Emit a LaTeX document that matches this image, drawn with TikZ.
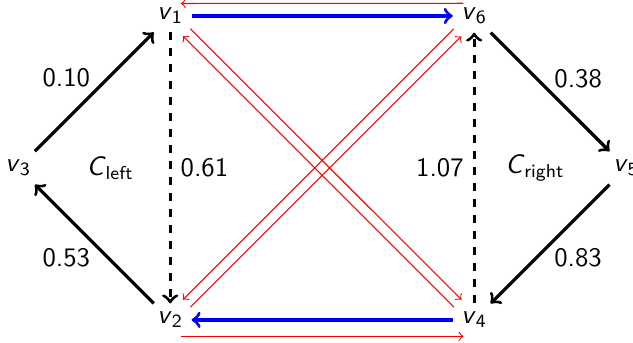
\documentclass[tikz,border=0pt]{standalone}
\usepackage{fontspec}
\renewcommand{\familydefault}{\sfdefault}
\usetikzlibrary{arrows}
\newcommand{\vx}[1]{\textit{v}\textsubscript{#1}}

\begin{document}
\begin{tikzpicture}
[font=\sffamily, >=to]
\tikzstyle{vertex}=[inner sep=3pt]
\tikzstyle{cycle}=[->, very thick]
\tikzstyle{swap}=[->, very thick, dashed]
\tikzstyle{match}=[->, very thick, blue]
\tikzstyle{back}=[->, red, thin]
\tikzstyle{weight}=[inner sep=1pt]
\useasboundingbox (-0.24,-2.3) rectangle (8.09,2.21);
\node[vertex]	(v3)	at (0,0)	{\vx{3}};
\node[vertex]	(v1)	at (2,2)	{\vx{1}};
\node[vertex]	(v2)	at (2,-2)	{\vx{2}};
\node[vertex]	(v6)	at (6,2)	{\vx{6}};
\node[vertex]	(v4)	at (6,-2)	{\vx{4}};
\node[vertex]	(v5)	at (8,0)	{\vx{5}};
\node	(Cl)	at (1.21,0)	{\textit{C}\textsubscript{left}};
\node	(Cr)	at (6.8,0)	{\textit{C}\textsubscript{right}};

\draw[cycle]	(v3) -- node[weight, above left] {0.10} (v1);
\draw[cycle]	(v2) -- node[weight, below left] {0.53} (v3);
\draw[swap]	(v1) -- node[right] {0.61} (v2);
\draw[swap]	(v4) -- node[left] {1.07} (v6);
\draw[cycle]	(v6) -- node[weight, above right] {0.38} (v5);
\draw[cycle]	(v5) -- node[weight, below right] {0.83} (v4);
\draw[match]	(v1) -- (v6);
\draw[match]	(v4) -- (v2);

\draw[back]	([xshift=-4pt, yshift=-1.5pt]v6.north) -- ([xshift=4pt, yshift=-1.5pt]v1.north);
\draw[back]	([xshift=4pt]v2.south) -- ([xshift=-4pt]v4.south);
\draw[back, transform canvas={xshift=1.4pt, yshift=1.4pt}]	(v1) -- (v4);
\draw[back, transform canvas={xshift=-1.4pt, yshift=-1.4pt}]	(v4) -- (v1);
\draw[back, transform canvas={xshift=1.4pt, yshift=-1.4pt}]	(v2) -- (v6);
\draw[back, transform canvas={xshift=-1.4pt, yshift=1.4pt}]	(v6) -- (v2);
\end{tikzpicture}
\end{document}
